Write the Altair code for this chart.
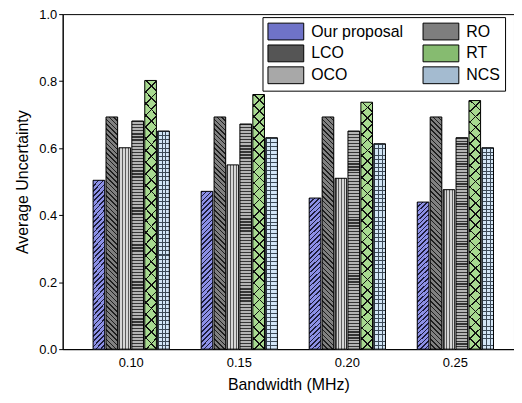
import math
import altair as alt
import pandas as pd

bandwidths = ["0.10", "0.15", "0.20", "0.25"]
series = ["Our proposal", "LCO", "OCO", "RO", "RT", "NCS"]
our_proposal = [0.504, 0.471, 0.451, 0.439]
lco = [0.693, 0.693, 0.693, 0.693]
oco = [0.601, 0.550, 0.510, 0.476]
ro = [0.681, 0.672, 0.651, 0.631]
rt = [0.802, 0.760, 0.737, 0.742]
ncs = [0.651, 0.631, 0.613, 0.601]

# legend swatch colours (average look of each hatch)
legend_colors = {
    "Our proposal": "#6f73c8",
    "LCO": "#555555",
    "OCO": "#a8a8a8",
    "RO": "#7e7e7e",
    "RT": "#86bb70",
    "NCS": "#a4bbd0",
}

values_by_series = [our_proposal, lco, oco, ro, rt, ncs]
rows = []
for i, bw in enumerate(bandwidths):
    for s, vals in zip(series, values_by_series):
        rows.append({"bw": bw, "series": s, "value": vals[i]})
df = pd.DataFrame(rows)

FONT = "Liberation Sans"
PLOT_W, PLOT_H = 454, 337
BAR_W = 11.7  # approximate bar width in px (style constant for hatch geometry)


def stripe_stops(n, line, gap, frac):
    stops = []
    for k in range(n):
        a = k / n
        b = (k + frac) / n
        c = (k + 1) / n
        stops += [
            alt.GradientStop(offset=a, color=line),
            alt.GradientStop(offset=b, color=line),
            alt.GradientStop(offset=b, color=gap),
            alt.GradientStop(offset=min(c, 1.0), color=gap),
        ]
    return stops


def straight(n, line, gap, frac, vertical_lines):
    if vertical_lines:
        return alt.LinearGradient(gradient="linear", stops=stripe_stops(n, line, gap, frac),
                                  x1=0, y1=0, x2=1, y2=0)
    return alt.LinearGradient(gradient="linear", stops=stripe_stops(n, line, gap, frac),
                              x1=0, y1=0, x2=0, y2=1)


def diagonal(vals, period, line, gap, frac, slash):
    h = (sum(vals) / len(vals)) * PLOT_H
    k = h / BAR_W
    n = max(1, round((BAR_W + h) / (math.sqrt(2) * period)))
    x2 = (1 + k) / (1 + k * k)
    y2 = k * x2
    stops = stripe_stops(n, line, gap, frac)
    if slash:
        return alt.LinearGradient(gradient="linear", stops=stops, x1=0, y1=0, x2=x2, y2=y2)
    return alt.LinearGradient(gradient="linear", stops=stops, x1=0, y1=1, x2=x2, y2=1 - y2)


CLEAR = "rgba(0,0,0,0)"


def mean_h(v):
    return (sum(v) / len(v)) * PLOT_H


overlays_spec = [
    ("Our proposal", diagonal(our_proposal, 3.4, "#1c1c3a", "#8c90e6", 0.32, True)),
    ("LCO", diagonal(lco, 3.4, "#1e1e1e", "#808080", 0.32, False)),
    ("OCO", straight(4, "#5c5c5c", "#d6d6d6", 0.5, True)),
    ("RO", straight(round(mean_h(ro) / 3.0), "#353535", "#b4b4b4", 0.4, False)),
    ("RT", diagonal(rt, 7.8, "#111111", "#a8da90", 0.15, True)),
    ("RT", diagonal(rt, 7.8, "#111111", CLEAR, 0.15, False)),
    ("NCS", straight(round(mean_h(ncs) / 4.0), "#3c4a58", "#d3e6f7", 0.25, False)),
    ("NCS", straight(3, "#3c4a58", CLEAR, 0.25, True)),
]


def encodings():
    x = alt.X(
        "bw:N",
        sort=bandwidths,
        scale=alt.Scale(domain=bandwidths, paddingInner=0.2824, paddingOuter=0.2295, align=0.6),
        axis=alt.Axis(title="Bandwidth (MHz)", labelAngle=0, ticks=False,
                      labelPadding=7, titlePadding=8),
    )
    xo = alt.XOffset(
        "series:N", sort=series,
        scale=alt.Scale(domain=series, paddingInner=0.1, paddingOuter=0.05),
    )
    y = alt.Y(
        "value:Q",
        scale=alt.Scale(domain=[0, 1]),
        axis=alt.Axis(title="Average Uncertainty", values=[0, 0.2, 0.4, 0.6, 0.8, 1.0],
                      format=".1f", grid=False, tickSize=4, labelPadding=2,
                      titlePadding=8),
    )
    return dict(x=x, xOffset=xo, y=y)


base = alt.Chart(df).mark_bar(strokeWidth=0).encode(
    **encodings(),
    color=alt.Color(
        "series:N",
        scale=alt.Scale(domain=series, range=[legend_colors[s] for s in series]),
        legend=alt.Legend(
            title=None, orient="none", legendX=201, legendY=3, columns=2,
            symbolType="M-2,-0.94H2V0.94H-2Z", symbolSize=324, symbolOffset=9,
            symbolStrokeColor="black", symbolStrokeWidth=1, symbolOpacity=1,
            labelFontSize=16, labelFont=FONT, labelColor="black", labelOffset=16,
            strokeColor="black", fillColor="white", padding=5,
            rowPadding=1, columnPadding=17,
        ),
    ),
)

overlay_layers = [
    alt.Chart(df).transform_filter(alt.datum.series == s)
    .mark_bar(fill=grad, strokeWidth=0)
    .encode(**encodings())
    for s, grad in overlays_spec
]

outline = alt.Chart(df).mark_bar(filled=False, stroke="black", strokeWidth=1).encode(**encodings())

chart = alt.layer(base, *overlay_layers, outline).properties(
    width=PLOT_W, height=PLOT_H,
    padding={"left": 55, "top": 5, "right": 0, "bottom": 50},
    autosize=alt.AutoSizeParams(type="none"),
).configure_axis(
    labelFont=FONT, labelFontSize=13, labelColor="black",
    titleFont=FONT, titleFontSize=16, titleFontWeight="normal", titleColor="black",
    domainColor="black", tickColor="black",
).configure_view(
    stroke="black", strokeWidth=1,
)

chart.save("out.html", embed_options={"renderer": "svg", "actions": False})
